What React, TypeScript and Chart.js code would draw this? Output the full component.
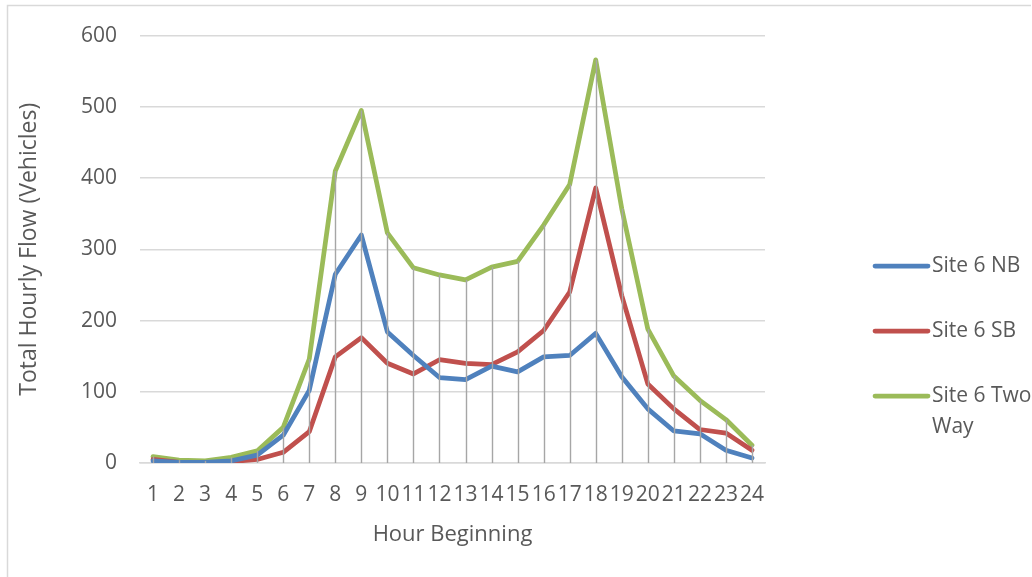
import React, { useEffect, useRef } from "react";
import { Chart, registerables } from "chart.js";

Chart.register(...registerables);

// Hour of day (hour beginning)
const hours = ["1","2","3","4","5","6","7","8","9","10","11","12","13","14","15","16","17","18","19","20","21","22","23","24"];

// Hourly vehicle counts at Site 6
const northbound = [3, 1, 1, 3, 11, 39, 102, 265, 320, 184, 151, 120, 117, 136, 128, 149, 151, 182, 121, 76, 45, 41, 18, 7];
const southbound = [5, 1, 0, 2, 5, 15, 44, 149, 176, 140, 125, 145, 140, 138, 156, 186, 240, 386, 235, 111, 76, 47, 42, 18];
const twoWay = [9, 4, 3, 8, 17, 50, 146, 410, 495, 323, 274, 264, 257, 275, 283, 334, 391, 566, 357, 188, 122, 88, 61, 25];

const seriesNames = ["Site 6 NB", "Site 6 SB", "Site 6 Two Way"];
const seriesColors = ["#4f81bd", "#c0504d", "#9bbb59"];

const yTicks = [0, 100, 200, 300, 400, 500, 600];

const FONT = "'Open Sans', sans-serif";
const TEXT = "#595959";

// Vertical drop lines from the highest series value down to the axis
const dropLines = {
  id: "dropLines",
  afterDatasetsDraw(chart: any) {
    const { ctx, chartArea } = chart;
    const x = chart.scales.x;
    const y = chart.scales.y;
    ctx.save();
    ctx.strokeStyle = "#a6a6a6";
    ctx.lineWidth = 1.4;
    hours.forEach((_, i) => {
      const top = Math.max(...chart.data.datasets.map((d: any) => d.data[i]));
      const px = Math.round(x.getPixelForValue(i)) + 0.5;
      ctx.beginPath();
      ctx.moveTo(px, y.getPixelForValue(top));
      ctx.lineTo(px, chartArea.bottom);
      ctx.stroke();
    });
    ctx.restore();
  },
};

// Frame and series key on the right
const frameAndKey = {
  id: "frameAndKey",
  afterDraw(chart: any) {
    const { ctx } = chart;
    ctx.save();
    ctx.strokeStyle = "#d9d9d9";
    ctx.lineWidth = 1.5;
    ctx.beginPath();
    ctx.moveTo(7.5, 577);
    ctx.lineTo(7.5, 5.5);
    ctx.lineTo(1031, 5.5);
    ctx.stroke();

    ctx.font = `21px ${FONT}`;
    ctx.fillStyle = TEXT;
    ctx.textBaseline = "middle";
    ctx.textAlign = "left";
    const lineX0 = 875;
    const lineX1 = 928;
    const textX = 932;
    const maxW = 110;
    let cy = 266;
    chart.data.datasets.forEach((ds: any) => {
      // wrap label words to the available width
      const words = String(ds.label).split(" ");
      const lines: string[] = [];
      let cur = "";
      words.forEach((w: string) => {
        const trial = cur ? cur + " " + w : w;
        if (cur && ctx.measureText(trial).width > maxW) {
          lines.push(cur);
          cur = w;
        } else {
          cur = trial;
        }
      });
      if (cur) lines.push(cur);

      ctx.strokeStyle = ds.borderColor;
      ctx.lineWidth = 4.75;
      ctx.lineCap = "round";
      ctx.beginPath();
      ctx.moveTo(lineX0, cy);
      ctx.lineTo(lineX1, cy);
      ctx.stroke();
      lines.forEach((ln, k) => {
        ctx.fillText(ln, textX, cy + k * 31);
      });
      cy += 65;
    });
    ctx.restore();
  },
};

export default function App() {
  const ref = useRef<HTMLCanvasElement | null>(null);

  useEffect(() => {
    if (!ref.current) return;
    const seriesData = [northbound, southbound, twoWay];
    const chart = new Chart(ref.current, {
      type: "line",
      data: {
        labels: hours,
        datasets: seriesData.map((d, i) => ({
          label: seriesNames[i],
          data: d,
          borderColor: seriesColors[i],
          backgroundColor: seriesColors[i],
          borderWidth: 4.75,
          pointRadius: 0,
          tension: 0,
          borderJoinStyle: "round" as const,
          borderCapStyle: "round" as const,
        })),
      },
      options: {
        responsive: false,
        animation: false,
        layout: { padding: { left: 8, top: 34, right: 267, bottom: 0 } },
        plugins: {
          legend: { display: false },
          tooltip: { enabled: false },
        },
        scales: {
          x: {
            type: "category",
            offset: true,
            grid: { display: false, drawTicks: false },
            border: { display: true, color: "#d9d9d9", width: 1.4 },
            ticks: {
              autoSkip: false,
              maxRotation: 0,
              minRotation: 0,
              padding: 19,
              color: TEXT,
              font: { family: FONT, size: 21 },
            },
            title: {
              display: true,
              text: "Hour Beginning",
              color: TEXT,
              font: { family: FONT, size: 22 },
              padding: { top: 0, bottom: 29 },
            },
            afterFit(scale: any) {
              scale.height = 577 - 463;
            },
          },
          y: {
            min: 0,
            max: 600,
            afterBuildTicks(scale: any) {
              scale.ticks = yTicks.map((v) => ({ value: v }));
            },
            grid: { color: "#d9d9d9", lineWidth: 1.4, drawTicks: false },
            border: { display: false },
            ticks: {
              padding: 23,
              color: TEXT,
              font: { family: FONT, size: 21 },
            },
            title: {
              display: true,
              text: "Total Hourly Flow (Vehicles)",
              color: TEXT,
              font: { family: FONT, size: 23 },
              padding: { top: 8, bottom: 0 },
            },
            afterFit(scale: any) {
              scale.width = 132;
            },
          },
        },
      },
      plugins: [dropLines, frameAndKey],
    });
    return () => chart.destroy();
  }, []);

  return (
    <div style={{ position: "fixed", left: 0, top: 0, width: 1032, height: 577, background: "#ffffff" }}>
      <canvas ref={ref} width={1032} height={577} style={{ display: "block" }} />
    </div>
  );
}
